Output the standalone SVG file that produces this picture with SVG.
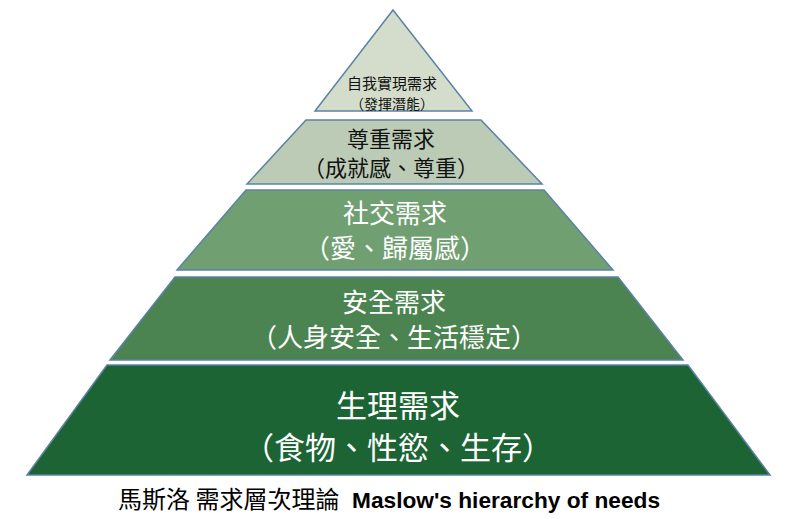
<svg xmlns="http://www.w3.org/2000/svg" width="800" height="519" viewBox="0 0 800 519">
<style>
.tier{stroke:#5b82a6;stroke-width:1.5;stroke-linejoin:miter}
.cjk{font-family:"Noto Sans CJK TC","Noto Sans CJK SC",sans-serif;text-anchor:middle}
.dark{fill:#111}
.light{fill:#ffffff}
.cap{font-family:"Noto Sans CJK TC","Noto Sans CJK SC",sans-serif;font-size:24px;fill:#000}
.en{font-family:"Liberation Sans",Arial,sans-serif;font-weight:bold;font-size:22.7px}
</style>
<rect width="800" height="519" fill="#ffffff"/>
<g id="tier-self-actualization">
<polygon class="tier" fill="#d4ddcb" points="393,10 472,111 315,111"/>
<text class="cjk dark"><tspan x="392" y="88.5" font-size="15">自我實現需求</tspan><tspan x="392" y="108.5" font-size="14">（發揮潛能）</tspan></text>
</g>
<g id="tier-esteem">
<polygon class="tier" fill="#bccbb5" points="306,120 481,120 542,184 247,184"/>
<text class="cjk dark" font-size="22"><tspan x="391" y="146.5">尊重需求</tspan><tspan x="391" y="175.5">（成就感、尊重）</tspan></text>
</g>
<g id="tier-social">
<polygon class="tier" fill="#709f72" points="246,190 544,190 613,270 177,270"/>
<text class="cjk light" font-size="26"><tspan x="395" y="223.4">社交需求</tspan><tspan x="395" y="258.4">（愛、歸屬感）</tspan></text>
</g>
<g id="tier-safety">
<polygon class="tier" fill="#4b8450" points="175,277 618,277 683,360 110,360"/>
<text class="cjk light" font-size="26"><tspan x="394" y="311.9">安全需求</tspan><tspan x="394" y="346.9">（人身安全、生活穩定）</tspan></text>
</g>
<g id="tier-physiological">
<polygon class="tier" fill="#1c6434" points="107,365 688,365 770,475 27,475"/>
<text class="cjk light" font-size="31"><tspan x="398" y="417.3">生理需求</tspan><tspan x="398" y="459.3">（食物、性慾、生存）</tspan></text>
</g>
<g id="connectors"></g>
<g id="caption">
<text class="cap" x="118" y="508">馬斯洛 需求層次理論<tspan class="en" x="352">Maslow's hierarchy of needs</tspan></text>
</g>
</svg>
